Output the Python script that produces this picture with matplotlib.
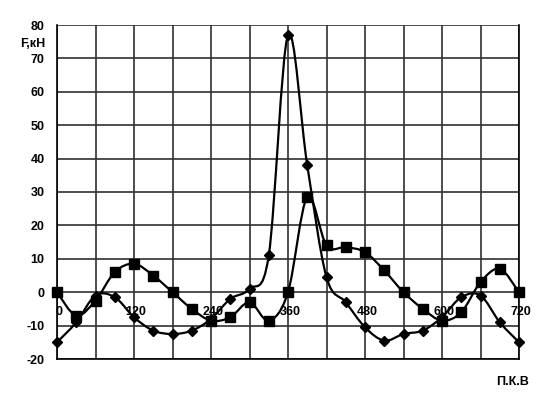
import numpy as np
import matplotlib.pyplot as plt
from matplotlib.path import Path
from matplotlib.patches import PathPatch

#### data ####
angle = [0, 30, 60, 90, 120, 150, 180, 210, 240, 270, 300, 330, 360,
         390, 420, 450, 480, 510, 540, 570, 600, 630, 660, 690, 720]
force_diamond = [-15, -9, -1, -1.5, -7.5, -11.5, -12.5, -11.5, -8, -2, 1, 11, 77,
                 38, 4.5, -3, -10.5, -14.5, -12.5, -11.5, -7.5, -1.5, -1, -9, -15]
force_square = [0, -7, -2.5, 6, 8.5, 5, 0, -5, -8.5, -7.5, -3, -8.5, 0,
                28.5, 14, 13.5, 12, 6.5, 0, -5, -8.5, -6, 3, 7, 0]
xticks = [0, 120, 240, 360, 480, 600, 720]
yticks = [-20, -10, 0, 10, 20, 30, 40, 50, 60, 70, 80]
########################################

plt.rcParams['font.family'] = ['Liberation Sans', 'DejaVu Sans']


def smooth_path(x, y):
    # excel-like smoothed line: bezier segments through the points
    p = np.column_stack([x, y]).astype(float)
    n = len(p)
    verts = [p[0]]
    codes = [Path.MOVETO]
    for i in range(n - 1):
        p0 = p[i - 1] if i > 0 else p[i]
        p3 = p[i + 2] if i + 2 < n else p[i + 1]
        c1 = p[i] + (p[i + 1] - p0) / 6
        c2 = p[i + 1] - (p3 - p[i]) / 6
        verts += [c1, c2, p[i + 1]]
        codes += [Path.CURVE4] * 3
    return Path(verts, codes)


fig = plt.figure(figsize=(5.43, 4.09), dpi=100)
ax = fig.add_axes([57 / 543, 50 / 409, 462 / 543, 334 / 409])

ax.set_xlim(0, 720)
ax.set_ylim(-20, 80)
ax.set_xticks(range(0, 721, 60))
ax.set_yticks(yticks)
ax.grid(True, color='#303030', linewidth=1.2)
ax.tick_params(length=0, labelbottom=False, pad=9)
ax.set_yticklabels([str(v) for v in yticks], fontweight='bold', fontsize=9)
for s in ax.spines.values():
    s.set_color('black')
    s.set_linewidth(1.2)
ax.spines['top'].set_visible(False)

for yv, mk, ms in [(force_diamond, 'D', 5.5), (force_square, 's', 7.5)]:
    ax.add_patch(PathPatch(smooth_path(angle, yv), facecolor='none',
                           edgecolor='black', linewidth=1.6, zorder=3))
    ax.plot(angle, yv, linestyle='none', marker=mk, markersize=ms,
            color='black', zorder=4, clip_on=False)

for xv in xticks:
    ax.text(xv + 3, -6, str(xv), ha='center', va='center', fontsize=9,
            fontweight='bold', zorder=5)

fig.text(20 / 543, 1 - 44 / 409, 'F,кН', fontsize=9, fontweight='bold',
         ha='left', va='center')
fig.text(513 / 543, 1 - 382 / 409, 'П.К.В', fontsize=9, fontweight='bold',
         ha='center', va='center')

plt.savefig('out.png', dpi=100)
